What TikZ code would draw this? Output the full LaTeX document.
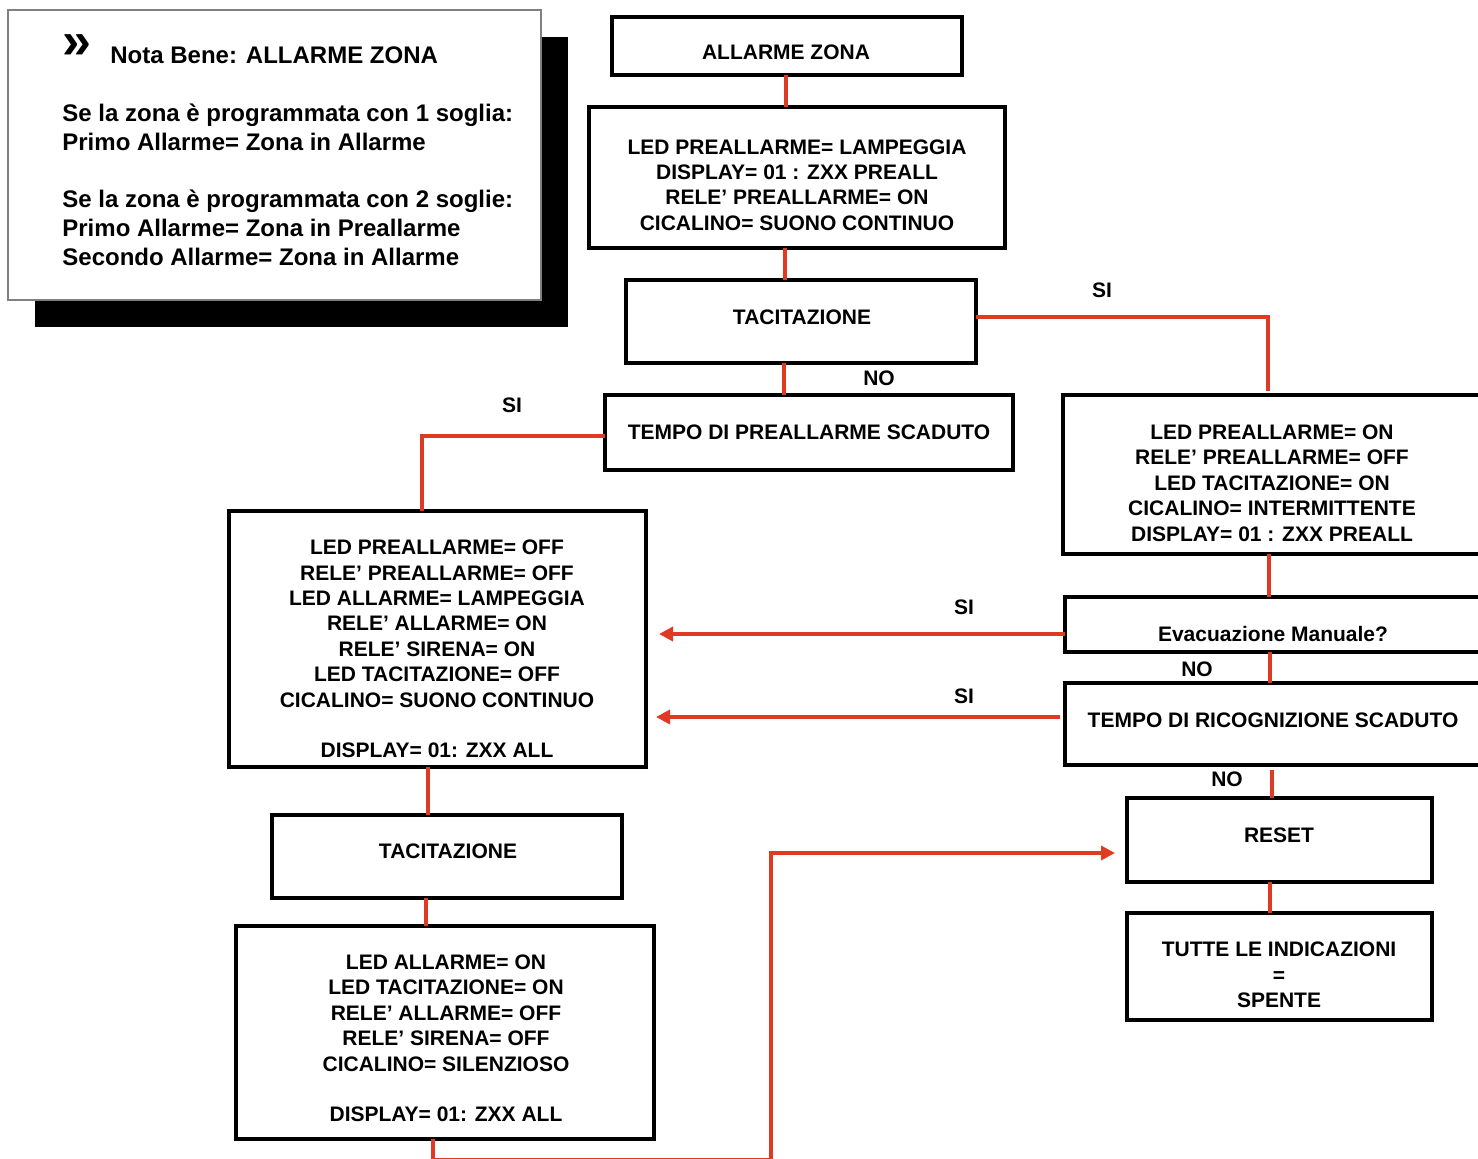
\documentclass[tikz,border=0pt]{standalone}
\usepackage{fontspec}
\setmainfont{Liberation Sans}
\usetikzlibrary{arrows.meta,calc}
\definecolor{lred}{HTML}{E03A25}
\begin{document}
\begin{tikzpicture}[x=0.5pt,y=-0.5pt,
  box/.style={draw, line width=2pt, inner sep=0pt, outer sep=0pt, rectangle},
  txt/.style={font=\fontsize{10.5}{12.7}\selectfont\bfseries, align=center, inner sep=0pt},
  notetxt/.style={font=\fontsize{12}{14.35}\selectfont\bfseries, align=left, inner sep=0pt},
  lbl/.style={font=\fontsize{10.5}{12}\selectfont\bfseries, inner sep=0pt},
  conn/.style={draw=lred, line width=2pt},
  arr/.style={conn, -{Triangle[length=7pt,width=7pt]}}]
\useasboundingbox (0,0) rectangle (1478,1158);
\fill[white] (0,0) rectangle (1478,1158);

% note with shadow
\node[fill=black, inner sep=0pt, minimum width=266.5pt, minimum height=145pt] (shadow) at (301.5,182) {};
\node[draw=gray, fill=white, line width=0.75pt, inner sep=0pt, minimum width=266.5pt, minimum height=145pt] (note) at (274.5,155) {};
\node[inner sep=0pt, font=\fontsize{26}{26}\selectfont\bfseries] (chev) at (77,47) {»};
\node[notetxt, anchor=west] (notehead) at (110,55) {Nota Bene: ALLARME ZONA};
\node[notetxt, anchor=west] (notebody) at (62,184.75) {Se la zona è programmata con 1 soglia:\\Primo Allarme= Zona in Allarme\\[14.35pt]Se la zona è programmata con 2 soglie:\\Primo Allarme= Zona in Preallarme\\Secondo Allarme= Zona in Allarme};

% boxes
\node[box, minimum width=175pt, minimum height=29pt] (zone) at (787,46) {};
\node[box, minimum width=208pt, minimum height=70.5pt] (b2) at (797,177.5) {};
\node[box, minimum width=175pt, minimum height=41.5pt] (tac1) at (801,321.5) {};
\node[box, minimum width=204pt, minimum height=37.5pt] (tpre) at (809,432.5) {};
\node[box, minimum width=218.5pt, minimum height=79.5pt] (rb) at (1281.5,474.5) {};
\node[box, minimum width=217.5pt, minimum height=27.5pt] (evac) at (1282.5,624.5) {};
\node[box, minimum width=217.5pt, minimum height=41pt] (tric) at (1282.5,724) {};
\node[box, minimum width=152.5pt, minimum height=42pt] (reset) at (1279.5,840) {};
\node[box, minimum width=152.5pt, minimum height=53.5pt] (tutte) at (1279.5,966.5) {};
\node[box, minimum width=208.5pt, minimum height=128pt] (lb) at (437.5,639) {};
\node[box, minimum width=175pt, minimum height=41.5pt] (tac2) at (447,856.5) {};
\node[box, minimum width=209pt, minimum height=106.5pt] (bb) at (445,1032.5) {};

% texts
\node[txt] (zone-t) at (786,52) {ALLARME ZONA};
\node[txt] (b2-t) at (797,185) {LED PREALLARME= LAMPEGGIA\\DISPLAY= 01 : ZXX PREALL\\RELE’ PREALLARME= ON\\CICALINO= SUONO CONTINUO};
\node[txt] (tac1-t) at (802,317) {TACITAZIONE};
\node[txt] (tpre-t) at (809,432) {TEMPO DI PREALLARME SCADUTO};
\node[txt] (rb-t) at (1272,483) {LED PREALLARME= ON\\RELE’ PREALLARME= OFF\\LED TACITAZIONE= ON\\CICALINO= INTERMITTENTE\\DISPLAY= 01 : ZXX PREALL};
\node[txt] (evac-t) at (1273,634) {Evacuazione Manuale?};
\node[txt] (tric-t) at (1273,720) {TEMPO DI RICOGNIZIONE SCADUTO};
\node[txt] (reset-t) at (1279,835) {RESET};
\node[txt] (tutte-t) at (1279,975) {TUTTE LE INDICAZIONI\\=\\SPENTE};
\node[txt] (lb-t) at (437,649) {LED PREALLARME= OFF\\RELE’ PREALLARME= OFF\\LED ALLARME= LAMPEGGIA\\RELE’ ALLARME= ON\\RELE’ SIRENA= ON\\LED TACITAZIONE= OFF\\CICALINO= SUONO CONTINUO\\[12.7pt]DISPLAY= 01: ZXX ALL};
\node[txt] (tac2-t) at (448,851) {TACITAZIONE};
\node[txt] (bb-t) at (446,1038.5) {LED ALLARME= ON\\LED TACITAZIONE= ON\\RELE’ ALLARME= OFF\\RELE’ SIRENA= OFF\\CICALINO= SILENZIOSO\\[12.7pt]DISPLAY= 01: ZXX ALL};

% labels
\node[lbl] (l1) at (1102,290) {SI};
\node[lbl] (l2) at (879,378) {NO};
\node[lbl] (l3) at (512,405) {SI};
\node[lbl] (l4) at (964,607) {SI};
\node[lbl] (l5) at (1197,669) {NO};
\node[lbl] (l6) at (964,696) {SI};
\node[lbl] (l7) at (1227,779) {NO};

% connectors
\draw[conn] (zone.south -| 786,0) -- (b2.north -| 786,0);
\draw[conn] (b2.south -| 785,0) -- (tac1.north -| 785,0);
\draw[conn] (tac1.south -| 784,0) -- (tpre.north -| 784,0);
\draw[conn] (tac1.east |- 0,317) -| ([yshift=2pt]rb.north -| 1268,0);
\draw[conn] (tpre.west |- 0,436) -| (lb.north -| 422,0);
\draw[conn] (rb.south -| 1269,0) -- (evac.north -| 1269,0);
\draw[conn] (evac.south -| 1270,0) -- (tric.north -| 1270,0);
\draw[arr, shorten >=6.5pt] (evac.west |- 0,634) -- (lb.east |- 0,634);
\draw[arr, shorten <=2.5pt, shorten >=5pt] (tric.west |- 0,717) -- (lb.east |- 0,717);
\draw[conn, shorten <=2.5pt] (tric.south -| 1272,0) -- (reset.north -| 1272,0);
\draw[conn] (reset.south -| 1270,0) -- (tutte.north -| 1270,0);
\draw[conn] (lb.south -| 428,0) -- (tac2.north -| 428,0);
\draw[conn] (tac2.south -| 426,0) -- (bb.north -| 426,0);
\draw[arr, shorten >=6pt] (bb.south -| 433,0) |- (771,1160) -- (771,853) -- (reset.west |- 0,853);
\end{tikzpicture}
\end{document}
